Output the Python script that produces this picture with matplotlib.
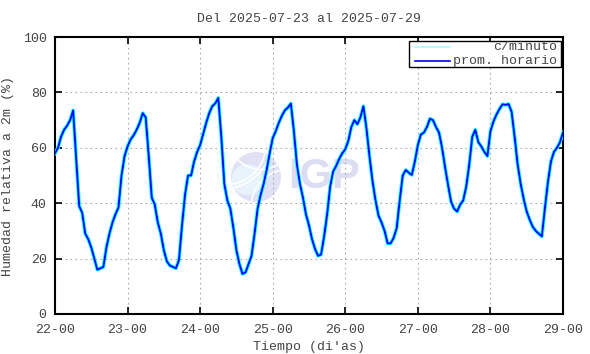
import numpy as np
import matplotlib
matplotlib.use('Agg')
import matplotlib.pyplot as plt
from matplotlib.patches import Circle, Rectangle, Arc

# hourly mean relative humidity (%), one list per day
d22 = [58, 60, 64, 66.5, 68, 70, 73.5, 56, 39, 36.5, 29, 27, 24, 20, 16, 16.5, 17, 24, 29, 33, 36, 38.5, 50, 57]
d23 = [60.5, 63, 64.5, 66.5, 69, 72.5, 71, 57, 42, 39.5, 33, 29, 23, 19, 17.5, 17, 16.5, 19.5, 32, 43, 50, 50, 55, 58.5]
d24 = [61, 65, 69, 72.5, 75, 76, 78, 64, 47, 41, 38, 31, 23, 18, 14.5, 15, 18, 21, 29, 38, 43, 47, 52, 58]
d25 = [63.5, 66, 69, 71.5, 73.5, 74.5, 76, 66, 54, 47, 42, 36, 32, 27, 23.5, 21, 21.5, 28, 36, 46, 51.5, 53.5, 56, 58]
d26 = [59.5, 62.5, 67.5, 70, 68.5, 71, 75, 67, 57, 48, 41, 35.5, 33, 30, 25.5, 25.5, 27.5, 31, 41, 50, 52, 51, 50.2, 55]
d27 = [61, 64.8, 65.5, 67.5, 70.5, 70, 67.5, 65.5, 60, 53, 46.5, 40.5, 38, 37, 39.5, 41, 46, 54, 64, 66.5, 62, 60.5, 58.5, 57]
d28 = [66, 69.5, 72, 74, 75.7, 75.5, 75.8, 73, 64, 54, 47, 41.5, 37, 34, 31.5, 30, 29, 28, 38, 47.5, 55, 58.5, 60, 62]
last_value = [65.5]

hourly = d22 + d23 + d24 + d25 + d26 + d27 + d28 + last_value
days = np.arange(22, 30)
day_labels = ['22-00', '23-00', '24-00', '25-00', '26-00', '27-00', '28-00', '29-00']
yticks = [0, 20, 40, 60, 80, 100]

t = 22 + np.arange(len(hourly)) / 24.0

mono = 'Liberation Mono'
txt_color = '#444444'
plt.rcParams['font.family'] = mono
plt.rcParams['font.size'] = 9.5

fig = plt.figure(figsize=(5.9, 3.54), dpi=100)
ax = fig.add_axes([55 / 590, 1 - 314 / 354, 508 / 590, 277 / 354])
ax.set_facecolor('none')
ax.set_zorder(2)

# IGP watermark (circle logo drawn in its own square axes behind the data)
lax = fig.add_axes([231 / 590, 1 - 202 / 354, 50 / 590, 50 / 354])
lax.set_zorder(1)
lax.set_xlim(-1, 1)
lax.set_ylim(-1, 1)
lax.set_aspect('equal')
lax.axis('off')
lax.add_patch(Circle((0, 0), 1, color='#e1e1f5', lw=0))
lax.add_patch(Circle((-0.35, -0.1), 0.62, color='#e9f3fc', lw=0))
for cx, cy, r, a1, a2 in [(-1.2, 1.3, 1.6, 270, 360), (-1.4, 1.6, 2.1, 280, 350),
                          (1.3, -1.2, 1.5, 90, 180), (0.2, 1.6, 1.3, 200, 340)]:
    lax.add_patch(Arc((cx, cy), 2 * r, 2 * r, theta1=a1, theta2=a2, color='white', lw=1.2))
fig.text(288 / 590, 1 - 177 / 354, 'IGP', family='Liberation Sans', weight='bold',
         fontsize=30, color='#dcdcf2', ha='left', va='center', zorder=1)

ax.plot(t, hourly, color='#00ffff', lw=2.6, zorder=3, solid_joinstyle='round')
ax.plot(t, hourly, color='#0000ff', lw=1.3, zorder=4)

ax.set_xlim(22, 29)
ax.set_ylim(0, 100)
ax.set_xticks(days)
ax.set_xticklabels(day_labels)
ax.set_yticks(yticks)
ax.grid(True, color='#aaaaaa', linestyle=(0, (1.5, 3)), lw=0.8)
ax.tick_params(direction='in', length=5, width=1.2, top=True, right=True,
               labelsize=9.5, colors='black', labelcolor=txt_color)
ax.tick_params(axis='x', pad=7)
ax.tick_params(axis='y', pad=6)
for s in ax.spines.values():
    s.set_linewidth(1.5)

ax.set_title('Del 2025-07-23 al 2025-07-29', fontsize=9.5, pad=11, color=txt_color)
ax.set_xlabel('Tiempo (di\'as)', fontsize=9.5, labelpad=4, color=txt_color)
ax.set_ylabel('Humedad relativa a 2m (%)', fontsize=9.5, labelpad=6, color=txt_color)

# gnuplot style key: sample on the left, text right aligned
ax.add_patch(Rectangle((0.697, 0.892), 0.299, 0.094, transform=ax.transAxes,
                       facecolor='white', edgecolor='black', lw=1.0, zorder=6))
ax.plot([0.709, 0.778], [0.964, 0.964], transform=ax.transAxes, color='#aaffff', lw=1.2, zorder=7)
ax.plot([0.709, 0.778], [0.915, 0.915], transform=ax.transAxes, color='#0000ff', lw=1.2, zorder=7)
ax.text(0.988, 0.964, 'c/minuto', transform=ax.transAxes, ha='right', va='center',
        fontsize=9.5, color=txt_color, zorder=7)
ax.text(0.988, 0.915, 'prom. horario', transform=ax.transAxes, ha='right', va='center',
        fontsize=9.5, color=txt_color, zorder=7)

fig.savefig('out.png', dpi=100)
